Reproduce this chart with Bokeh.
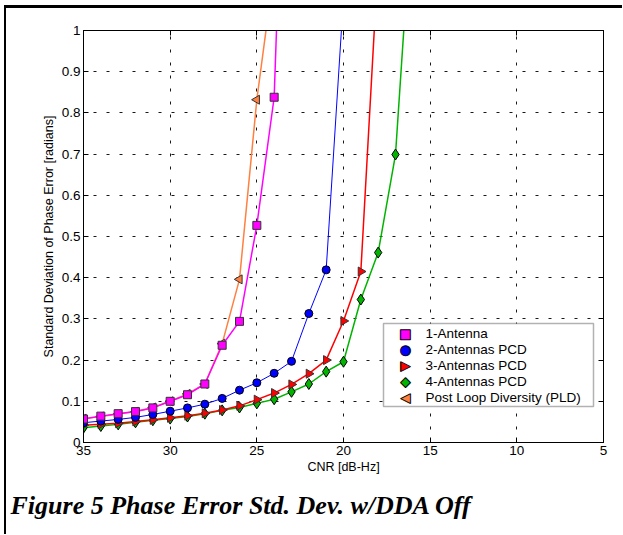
import math
from bokeh.plotting import figure
from bokeh.models import Range1d, LinearAxis, FixedTicker, Label, BoxAnnotation, Title
from bokeh.embed import file_html
from bokeh.resources import INLINE

# ---- data ----
cnr_ant1 = [35, 34, 33, 32, 31, 30, 29, 28, 27, 26, 25, 24, 23]
ant1 = [0.057, 0.064, 0.070, 0.075, 0.084, 0.100, 0.116, 0.142, 0.236, 0.294, 0.527, 0.838, 2.05]

cnr_ant2 = [35, 34, 33, 32, 31, 30, 29, 28, 27, 26, 25, 24, 23, 22, 21, 20]
ant2 = [0.048, 0.052, 0.056, 0.061, 0.068, 0.076, 0.084, 0.093, 0.107, 0.127, 0.145, 0.168, 0.197, 0.313, 0.419, 1.08]

cnr_ant3 = [35, 34, 33, 32, 31, 30, 29, 28, 27, 26, 25, 24, 23, 22, 21, 20, 19, 18]
ant3 = [0.042, 0.044, 0.047, 0.051, 0.055, 0.060, 0.065, 0.071, 0.079, 0.089, 0.104, 0.120, 0.141, 0.167, 0.200, 0.295, 0.415, 1.17]

cnr_ant4 = [35, 34, 33, 32, 31, 30, 29, 28, 27, 26, 25, 24, 23, 22, 21, 20, 19, 18, 17, 16]
ant4 = [0.036, 0.040, 0.044, 0.049, 0.054, 0.058, 0.063, 0.070, 0.078, 0.085, 0.095, 0.105, 0.123, 0.142, 0.172, 0.196, 0.347, 0.461, 0.699, 1.33]

cnr_pld = [35, 34, 33, 32, 31, 30, 29, 28, 27, 26, 25, 24]
pld = [0.058, 0.063, 0.069, 0.075, 0.085, 0.100, 0.118, 0.142, 0.240, 0.396, 0.832, 1.15]

x_ticks = [35, 30, 25, 20, 15, 10, 5]
y_ticks = [0, 0.1, 0.2, 0.3, 0.4, 0.5, 0.6, 0.7, 0.8, 0.9, 1]
y_tick_labels = ["0", "0.1", "0.2", "0.3", "0.4", "0.5", "0.6", "0.7", "0.8", "0.9", "1"]

series_names = ["1-Antenna", "2-Antennas PCD", "3-Antennas PCD", "4-Antennas PCD", "Post Loop Diversity (PLD)"]
legend_symbols = ["\u25A0", "\u25CF", "\u25B6", "\u25C6", "\u25C0"]
x_title = "CNR [dB-Hz]"
y_title = "Standard Deviation of Phase Error [radians]"
caption = "Figure 5 Phase Error Std. Dev. w/DDA Off"

FONT = "Liberation Sans"
C_MAG = "#FF00FF"
C_BLUE = "#0000FF"
C_RED = "#FF0000"
C_GREEN = "#00B400"
C_ORANGE = "#FF8040"
colors = [C_MAG, C_BLUE, C_RED, C_GREEN, C_ORANGE]

p = figure(frame_width=520, frame_height=412,
           x_range=Range1d(35, 5), y_range=Range1d(0, 1),
           output_backend="svg", toolbar_location=None,
           min_border_left=77, min_border_right=19, min_border_top=22, min_border_bottom=92,
           background_fill_color="white", border_fill_color="white")
p.styles = {"margin-left": "4px", "margin-top": "5px",
            "border-left": "2px solid black", "border-top": "3px solid black"}

p.outline_line_color = "black"
p.outline_line_width = 1

for ax in (p.xaxis[0], p.yaxis[0]):
    ax.major_tick_in = 5
    ax.major_tick_out = 0
    ax.minor_tick_line_color = None
    ax.axis_line_color = "black"
    ax.major_tick_line_color = "black"
    ax.major_label_text_font = FONT
    ax.major_label_text_font_size = "13.5px"
    ax.major_label_text_color = "black"
    ax.axis_label_text_font = FONT
    ax.axis_label_text_font_size = "12.5px"
    ax.axis_label_text_font_style = "normal"
    ax.axis_label_text_color = "black"

p.xaxis.ticker = FixedTicker(ticks=x_ticks)
p.yaxis.ticker = FixedTicker(ticks=y_ticks)
p.yaxis.major_label_overrides = {t: l for t, l in zip(y_ticks, y_tick_labels)}
p.xaxis.axis_label = x_title
p.yaxis.axis_label = y_title
p.xaxis.major_label_standoff = 3
p.xaxis.axis_label_standoff = 2
p.yaxis.major_label_standoff = 3
p.yaxis.axis_label_standoff = 3

# top and right axes with inward ticks (box on), labels not drawn
top = LinearAxis(ticker=FixedTicker(ticks=x_ticks), major_tick_in=5, major_tick_out=0,
                 minor_tick_line_color=None, major_label_text_color=None,
                 major_label_text_font_size="1px", major_label_standoff=0,
                 axis_line_color="black")
right = LinearAxis(ticker=FixedTicker(ticks=y_ticks), major_tick_in=5, major_tick_out=0,
                   minor_tick_line_color=None, major_label_text_color=None,
                   major_label_text_font_size="1px", major_label_standoff=0,
                   axis_line_color="black")
p.add_layout(top, "above")
p.add_layout(right, "right")

for g in (p.xgrid[0], p.ygrid[0]):
    g.grid_line_color = "black"
    g.grid_line_dash = "3 10"
    g.grid_line_width = 1
    g.grid_line_alpha = 0.9
p.xgrid.ticker = FixedTicker(ticks=x_ticks)
p.ygrid.ticker = FixedTicker(ticks=y_ticks)

# lines and markers
p.line(cnr_pld, pld, line_color=C_ORANGE, line_width=1.5)
p.scatter(cnr_pld, pld, marker="triangle", angle=math.pi / 2, size=9,
          fill_color=C_ORANGE, line_color="#333333", line_width=1)
p.line(cnr_ant4, ant4, line_color=C_GREEN, line_width=1.5)
p.scatter(cnr_ant4, ant4, marker="diamond", size=11,
          fill_color=C_GREEN, line_color="black", line_width=1)
p.line(cnr_ant3, ant3, line_color=C_RED, line_width=1.5)
p.scatter(cnr_ant3, ant3, marker="triangle", angle=-math.pi / 2, size=9,
          fill_color=C_RED, line_color="#333333", line_width=1)
p.line(cnr_ant2, ant2, line_color=C_BLUE, line_width=1)
p.scatter(cnr_ant2, ant2, marker="circle", size=8,
          fill_color=C_BLUE, line_color="black", line_width=1)
p.line(cnr_ant1, ant1, line_color=C_MAG, line_width=1.5)
p.scatter(cnr_ant1, ant1, marker="square", size=8,
          fill_color=C_MAG, line_color="#333333", line_width=1)

# legend (drawn by hand so the triangle markers keep their direction)
LEG_LEFT, LEG_RIGHT, LEG_TOP, LEG_BOTTOM = 300, 510, 119, 36
p.add_layout(BoxAnnotation(left=LEG_LEFT, right=LEG_RIGHT, bottom=LEG_BOTTOM, top=LEG_TOP,
                           left_units="screen", right_units="screen",
                           bottom_units="screen", top_units="screen",
                           fill_color="white", fill_alpha=1,
                           line_color="black", line_width=1.5))
row_h = 16
for i, (name, sym, col) in enumerate(zip(series_names, legend_symbols, colors)):
    yy = LEG_TOP - 10 - i * row_h
    p.add_layout(Label(x=LEG_LEFT + 22, y=yy, x_units="screen", y_units="screen",
                       text=sym, text_font="DejaVu Sans", text_font_size="13px",
                       text_align="center", text_baseline="middle",
                       text_color=col, text_outline_color="black"))
    p.add_layout(Label(x=LEG_LEFT + 42, y=yy, x_units="screen", y_units="screen",
                       text=name, text_font=FONT, text_font_size="13.5px",
                       text_align="left", text_baseline="middle", text_color="black"))

# figure caption below the axis
p.add_layout(Title(text=caption, align="left", offset=-73, standoff=24,
                   text_font="Liberation Serif", text_font_style="bold italic",
                   text_font_size="26px", text_color="black"), "below")

open("out.html", "w").write(file_html(p, INLINE))
